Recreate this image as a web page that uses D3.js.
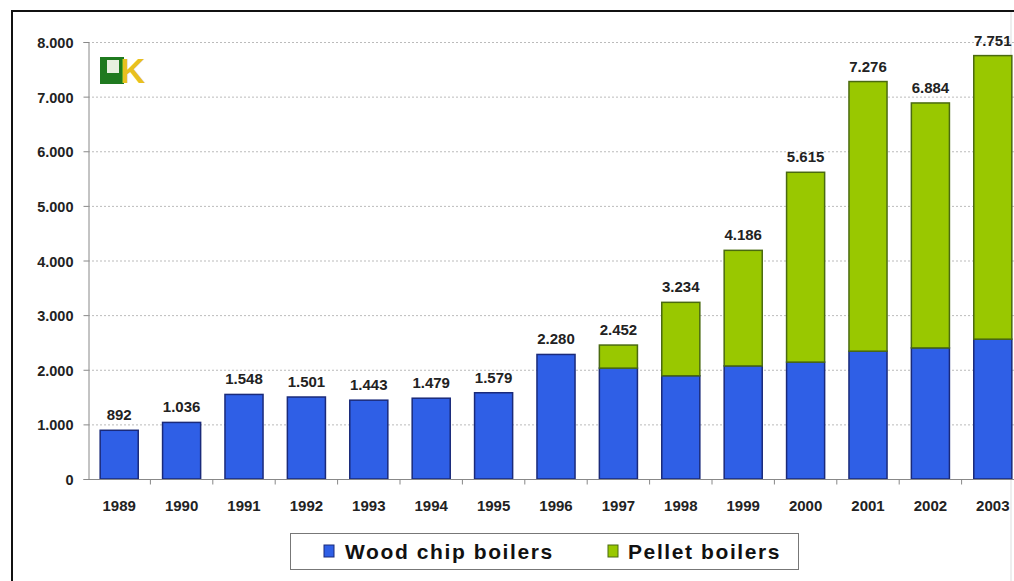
<!DOCTYPE html>
<html><head><meta charset="utf-8">
<script src="https://cdn.jsdelivr.net/npm/d3@7"></script>
<style>
html,body{margin:0;padding:0;background:#fff;overflow:hidden;}
svg{display:block;font-family:Arial,"Liberation Sans",sans-serif;}
</style></head>
<body>
<svg id="chart" width="1014" height="581"></svg>
<script>
const years = ["1989","1990","1991","1992","1993","1994","1995","1996","1997","1998","1999","2000","2001","2002","2003"];
const woodChip = [892,1036,1548,1501,1443,1479,1579,2280,2030,1890,2070,2140,2340,2400,2560];
const pellet = [0,0,0,0,0,0,0,0,422,1344,2116,3475,4936,4484,5191];
const totals = [892,1036,1548,1501,1443,1479,1579,2280,2452,3234,4186,5615,7276,6884,7751];
const yTicks = [0,1000,2000,3000,4000,5000,6000,7000,8000];
const seriesNames = ["Wood chip boilers","Pellet boilers"];
const colors = ["#2f5fe6","#99c800"];

const svg = d3.select("#chart");
const fmt = d3.formatLocale({decimal:",",thousands:".",grouping:[3],currency:["",""]}).format(",d");

// outer frame
svg.append("line").attr("x1",12).attr("x2",1014).attr("y1",11).attr("y2",11).attr("stroke","#111").attr("stroke-width",2);
svg.append("line").attr("x1",12).attr("x2",12).attr("y1",10).attr("y2",581).attr("stroke","#111").attr("stroke-width",2);
svg.append("line").attr("x1",1011).attr("x2",1011).attr("y1",12).attr("y2",581).attr("stroke","#ddd").attr("stroke-width",1);

const x0 = 88, step = 62.4;
const x = d3.scaleBand().domain(years).range([x0, x0 + step*years.length]).paddingInner(0.39).paddingOuter(0.195);
const y = d3.scaleLinear().domain([0,8000]).range([479,42]);

// gridlines
svg.append("g").selectAll("line").data(yTicks.filter(d=>d>0)).join("line")
  .attr("x1",x0).attr("x2",1014).attr("y1",d=>y(d)+0.5).attr("y2",d=>y(d)+0.5)
  .attr("stroke","#bbb").attr("stroke-dasharray","2,2").attr("stroke-width",1);

// y axis
const yAxis = d3.axisLeft(y).tickValues(yTicks).tickSize(5).tickPadding(10).tickFormat(d=>d===0?"0":fmt(d));
const gy = svg.append("g").attr("transform",`translate(${x0+0.5},0)`).call(yAxis);
gy.select(".domain").attr("stroke","#888");
gy.selectAll(".tick line").attr("stroke","#888");
gy.selectAll("text").attr("font-size",14.5).attr("font-weight","bold").attr("fill","#222").attr("dy","0.38em");

// stacked bars
const stackData = years.map((yr,i)=>({year:yr, wood:woodChip[i], pellet:pellet[i]}));
const stack = d3.stack().keys(["wood","pellet"])(stackData);
svg.append("g").selectAll("g").data(stack).join("g")
  .attr("fill",(d,i)=>colors[i])
  .attr("stroke",(d,i)=>i===0?"#1a2a7a":"#4a6a10")
  .attr("stroke-width",1.5)
  .selectAll("rect").data(d=>d.filter(p=>p[1]-p[0]>0)).join("rect")
  .attr("x",d=>x(d.data.year))
  .attr("width",x.bandwidth())
  .attr("y",d=>y(d[1]))
  .attr("height",d=>y(d[0])-y(d[1]));

// x axis
const xAxisScale = d3.scaleLinear().domain([0,years.length]).range([x0, x0+step*years.length]);
const gx = svg.append("g").attr("transform","translate(0,479.5)");
gx.append("line").attr("x1",x0).attr("x2",1014).attr("y1",0).attr("y2",0).attr("stroke","#888");
gx.selectAll("line.tk").data(d3.range(1,years.length)).join("line").attr("class","tk")
  .attr("x1",d=>xAxisScale(d)).attr("x2",d=>xAxisScale(d)).attr("y1",0).attr("y2",5).attr("stroke","#888");
gx.selectAll("text").data(years).join("text")
  .attr("x",d=>x(d)+x.bandwidth()/2).attr("y",31)
  .attr("text-anchor","middle").attr("font-size",15).attr("font-weight","bold").attr("fill","#222")
  .text(d=>d);

// total labels
svg.append("g").selectAll("text").data(years).join("text")
  .attr("x",d=>x(d)+x.bandwidth()/2)
  .attr("y",(d,i)=>y(totals[i])-10)
  .attr("text-anchor","middle").attr("font-size",15).attr("font-weight","bold").attr("fill","#222")
  .text((d,i)=>fmt(totals[i]));

// logo
const logo = svg.append("g").attr("transform","translate(100,57)");
logo.append("rect").attr("x",0).attr("y",0).attr("width",24).attr("height",27).attr("fill","#1f7a1f");
logo.append("rect").attr("x",7).attr("y",3).attr("width",12).attr("height",13).attr("fill","#e8f0e0");
logo.append("text").attr("x",20).attr("y",26).attr("font-size",35).attr("font-weight","bold").attr("fill","#e8c020").attr("font-family","Arial").text("K");

// legend
const lg = svg.append("g");
lg.append("rect").attr("x",290.5).attr("y",533.5).attr("width",508).attr("height",36).attr("fill","#fff").attr("stroke","#777");
const items = [{x:324, tx:345, name:seriesNames[0], c:colors[0], s:"#1a2a7a"},{x:608, tx:628, name:seriesNames[1], c:colors[1], s:"#4a6a10"}];
items.forEach(it=>{
  lg.append("rect").attr("x",it.x).attr("y",545).attr("width",10).attr("height",12).attr("fill",it.c).attr("stroke",it.s).attr("stroke-width",1);
  lg.append("text").attr("x",it.tx).attr("y",559).attr("font-size",21).attr("font-weight","bold").attr("letter-spacing",1.6).attr("fill","#111").text(it.name);
});
</script>
</body></html>
